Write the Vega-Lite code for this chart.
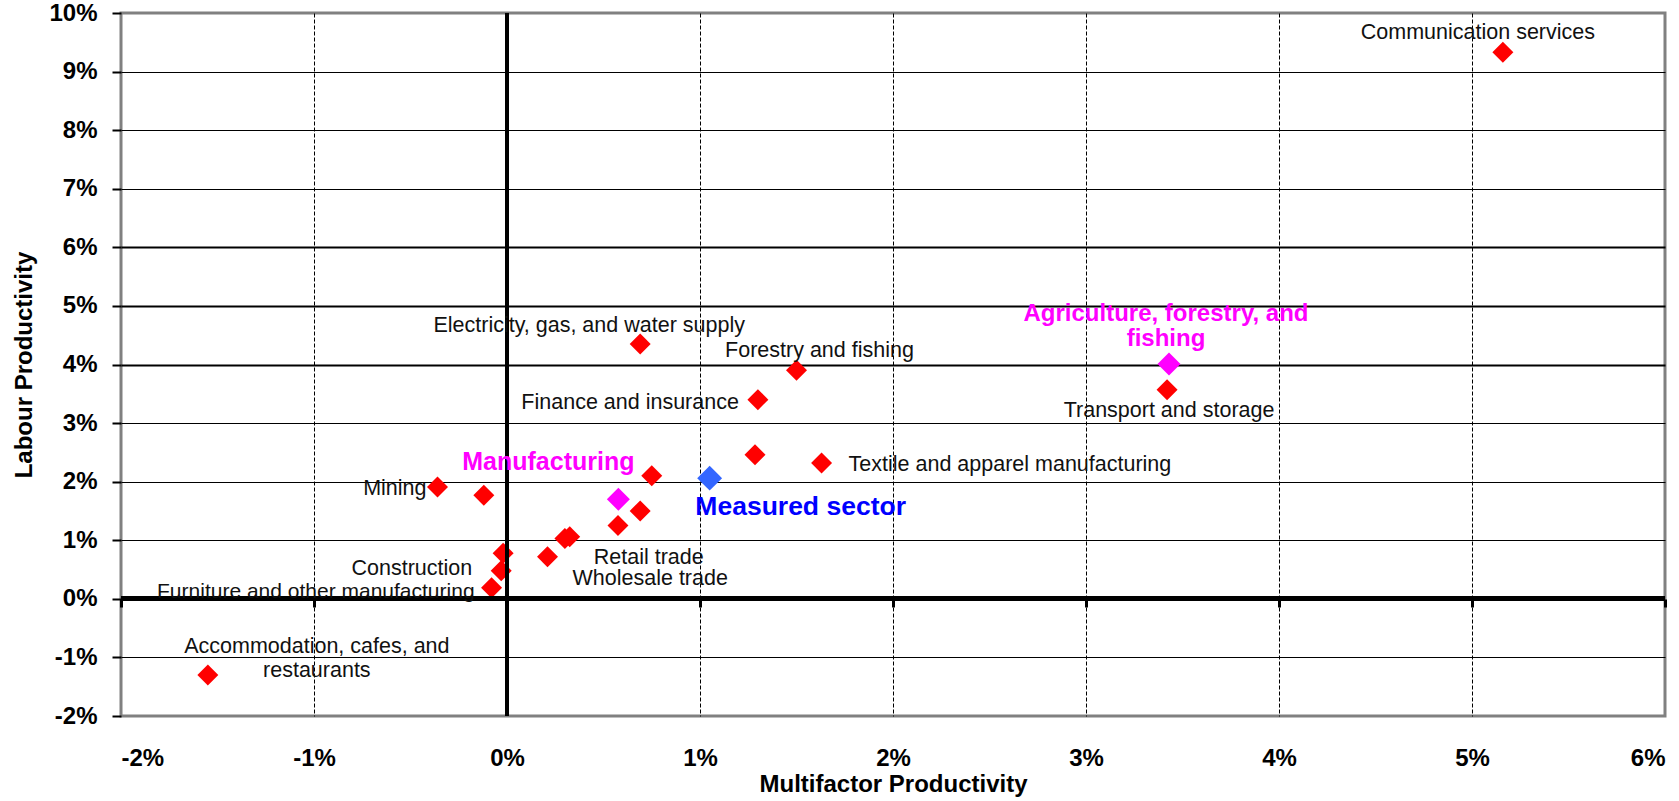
{
  "$schema": "https://vega.github.io/schema/vega-lite/v6.json",
  "width": 1544,
  "height": 703,
  "autosize": {"type": "none"},
  "padding": {"left": 121, "top": 13, "right": 14, "bottom": 85},
  "background": "white",
  "config": {
    "font": "Liberation Sans",
    "view": {"stroke": "#808080", "strokeWidth": 3}
  },
  "data": {
    "values": [
      {"label": "Communication services", "group": "Industry", "mfp": 5.16, "lp": 9.33},
      {"label": "Electricity, gas, and water supply", "group": "Industry", "mfp": 0.69, "lp": 4.35},
      {"label": "Forestry and fishing", "group": "Industry", "mfp": 1.50, "lp": 3.90},
      {"label": "Finance and insurance", "group": "Industry", "mfp": 1.30, "lp": 3.40},
      {"label": "Transport and storage", "group": "Industry", "mfp": 3.42, "lp": 3.57},
      {"label": "Textile and apparel manufacturing", "group": "Industry", "mfp": 1.63, "lp": 2.32},
      {"label": "Mining", "group": "Industry", "mfp": -0.36, "lp": 1.91},
      {"label": "Construction", "group": "Industry", "mfp": -0.03, "lp": 0.48},
      {"label": "Furniture and other manufacturing", "group": "Industry", "mfp": -0.08, "lp": 0.19},
      {"label": "Retail trade", "group": "Industry", "mfp": 0.325, "lp": 1.06},
      {"label": "Wholesale trade", "group": "Industry", "mfp": 0.21, "lp": 0.72},
      {"label": "Accommodation, cafes, and\nrestaurants", "group": "Industry", "mfp": -1.55, "lp": -1.30},
      {"label": "", "group": "Industry", "mfp": -0.12, "lp": 1.77},
      {"label": "", "group": "Industry", "mfp": -0.02, "lp": 0.78},
      {"label": "", "group": "Industry", "mfp": 1.285, "lp": 2.46},
      {"label": "", "group": "Industry", "mfp": 0.75, "lp": 2.10},
      {"label": "", "group": "Industry", "mfp": 0.69, "lp": 1.50},
      {"label": "", "group": "Industry", "mfp": 0.575, "lp": 1.25},
      {"label": "", "group": "Industry", "mfp": 0.30, "lp": 1.03},
      {"label": "Manufacturing", "group": "Sector", "mfp": 0.577, "lp": 1.70},
      {"label": "Agriculture, forestry, and\nfishing", "group": "Sector", "mfp": 3.43, "lp": 4.01},
      {"label": "Measured sector", "group": "Measured", "mfp": 1.05, "lp": 2.06}
    ]
  },
  "resolve": {"axis": {"x": "independent", "y": "independent"}},
  "layer": [
    {
      "mark": {"type": "point", "shape": "diamond", "filled": true, "opacity": 1},
      "encoding": {
        "x": {
          "field": "mfp", "type": "quantitative",
          "scale": {"domain": [-2, 6], "nice": false, "zero": false},
          "axis": {
            "values": [-2, -1, 0, 1, 2, 3, 4, 5, 6],
            "labelExpr": "datum.value + '%'",
            "title": "Multifactor Productivity",
            "orient": "bottom",
            "domain": false,
            "ticks": false,
            "tickSize": 0,
            "labelPadding": 30,
            "labelFontSize": 24,
            "labelFontWeight": "bold",
            "labelColor": "#000000",
            "titleFontSize": 24,
            "titleFontWeight": "bold",
            "titleColor": "#000000",
            "titlePadding": 2,
            "grid": true,
            "gridColor": "#000000",
            "gridWidth": 1,
            "gridDash": [4, 2],
            "gridOpacity": {"condition": {"test": "datum.value === -2 || datum.value === 6 || datum.value === 0", "value": 0}, "value": 1}
          }
        },
        "y": {
          "field": "lp", "type": "quantitative",
          "scale": {"domain": [-2, 10], "nice": false, "zero": false},
          "axis": {
            "values": [-2, -1, 0, 1, 2, 3, 4, 5, 6, 7, 8, 9, 10],
            "labelExpr": "datum.value + '%'",
            "title": "Labour Productivity",
            "domain": false,
            "ticks": true,
            "tickSize": 9,
            "tickWidth": 2,
            "tickColor": "#000000",
            "labelPadding": 15,
            "labelFontSize": 24,
            "labelFontWeight": "bold",
            "labelColor": "#000000",
            "titleFontSize": 24,
            "titleFontWeight": "bold",
            "titleColor": "#000000",
            "titlePadding": 12,
            "grid": true,
            "gridColor": "#000000",
            "gridWidth": {"condition": {"test": "datum.value >= 4 && datum.value <= 6", "value": 2}, "value": 1},
            "gridOpacity": {"condition": {"test": "datum.value === 10 || datum.value === -2 || datum.value === 0", "value": 0}, "value": 1}
          }
        },
        "color": {
          "field": "group", "type": "nominal",
          "scale": {"domain": ["Industry", "Sector", "Measured"], "range": ["#FF0000", "#FF00FF", "#3366FF"]},
          "legend": null
        },
        "size": {
          "field": "group", "type": "nominal",
          "scale": {"domain": ["Industry", "Sector", "Measured"], "range": [440, 620, 730]},
          "legend": null
        }
      }
    },
    {
      "mark": {"type": "rule", "color": "#000000", "strokeWidth": 4},
      "encoding": {
        "x": {
          "datum": 0, "type": "quantitative",
          "axis": {
            "values": [-2, -1, 0, 1, 2, 3, 4, 5, 6],
            "orient": "bottom",
            "offset": -117,
            "labels": false,
            "domain": false,
            "grid": false,
            "ticks": true,
            "tickSize": 8,
            "tickWidth": 3,
            "tickColor": "#000000",
            "title": null
          }
        }
      }
    },
    {
      "mark": {"type": "rule", "color": "#000000", "strokeWidth": 4},
      "encoding": {
        "y": {"datum": 0, "type": "quantitative", "axis": null}
      }
    },
    {
      "encoding": {
        "x": {"field": "mfp", "type": "quantitative", "axis": null},
        "y": {"field": "lp", "type": "quantitative", "axis": null},
        "text": {"field": "label", "type": "nominal"}
      },
      "layer": [
        {"transform": [{"filter": "datum.label === 'Communication services'"}],
         "mark": {"type": "text", "fontSize": 21.5, "color": "#111111", "align": "center", "baseline": "alphabetic", "dx": -25, "dy": -13}},
        {"transform": [{"filter": "datum.label === 'Electricity, gas, and water supply'"}],
         "mark": {"type": "text", "fontSize": 21.5, "color": "#111111", "align": "center", "baseline": "alphabetic", "dx": -51, "dy": -12}},
        {"transform": [{"filter": "datum.label === 'Forestry and fishing'"}],
         "mark": {"type": "text", "fontSize": 21.5, "color": "#111111", "align": "center", "baseline": "alphabetic", "dx": 23, "dy": -13}},
        {"transform": [{"filter": "datum.label === 'Finance and insurance'"}],
         "mark": {"type": "text", "fontSize": 21.5, "color": "#111111", "align": "right", "baseline": "alphabetic", "dx": -19, "dy": 9}},
        {"transform": [{"filter": "datum.label === 'Transport and storage'"}],
         "mark": {"type": "text", "fontSize": 21.5, "color": "#111111", "align": "center", "baseline": "alphabetic", "dx": 2, "dy": 27}},
        {"transform": [{"filter": "datum.label === 'Textile and apparel manufacturing'"}],
         "mark": {"type": "text", "fontSize": 21.5, "color": "#111111", "align": "left", "baseline": "alphabetic", "dx": 27, "dy": 8}},
        {"transform": [{"filter": "datum.label === 'Mining'"}],
         "mark": {"type": "text", "fontSize": 21.5, "color": "#111111", "align": "right", "baseline": "alphabetic", "dx": -11, "dy": 8}},
        {"transform": [{"filter": "datum.label === 'Construction'"}],
         "mark": {"type": "text", "fontSize": 21.5, "color": "#111111", "align": "right", "baseline": "alphabetic", "dx": -29, "dy": 4}},
        {"transform": [{"filter": "datum.label === 'Furniture and other manufacturing'"}],
         "mark": {"type": "text", "fontSize": 21, "color": "#111111", "align": "right", "baseline": "alphabetic", "dx": -17, "dy": 10}},
        {"transform": [{"filter": "datum.label === 'Retail trade'"}],
         "mark": {"type": "text", "fontSize": 21.5, "color": "#111111", "align": "left", "baseline": "alphabetic", "dx": 24, "dy": 27}},
        {"transform": [{"filter": "datum.label === 'Wholesale trade'"}],
         "mark": {"type": "text", "fontSize": 21.5, "color": "#111111", "align": "left", "baseline": "alphabetic", "dx": 25, "dy": 28}},
        {"transform": [{"filter": "indexof(datum.label, 'Accommodation') === 0"}],
         "mark": {"type": "text", "fontSize": 21.5, "color": "#111111", "align": "center", "baseline": "alphabetic", "dx": 109, "dy": -22, "lineBreak": "\n", "lineHeight": 24}},
        {"transform": [{"filter": "datum.label === 'Manufacturing'"}],
         "mark": {"type": "text", "fontSize": 25, "fontWeight": "bold", "color": "#FF00FF", "align": "center", "baseline": "alphabetic", "dx": -70, "dy": -29}},
        {"transform": [{"filter": "indexof(datum.label, 'Agriculture') === 0"}],
         "mark": {"type": "text", "fontSize": 24, "fontWeight": "bold", "color": "#FF00FF", "align": "center", "baseline": "alphabetic", "dx": -3, "dy": -43, "lineBreak": "\n", "lineHeight": 25}},
        {"transform": [{"filter": "datum.label === 'Measured sector'"}],
         "mark": {"type": "text", "fontSize": 26.5, "fontWeight": "bold", "color": "#0000FF", "align": "center", "baseline": "alphabetic", "dx": 91, "dy": 37}}
      ]
    }
  ]
}
